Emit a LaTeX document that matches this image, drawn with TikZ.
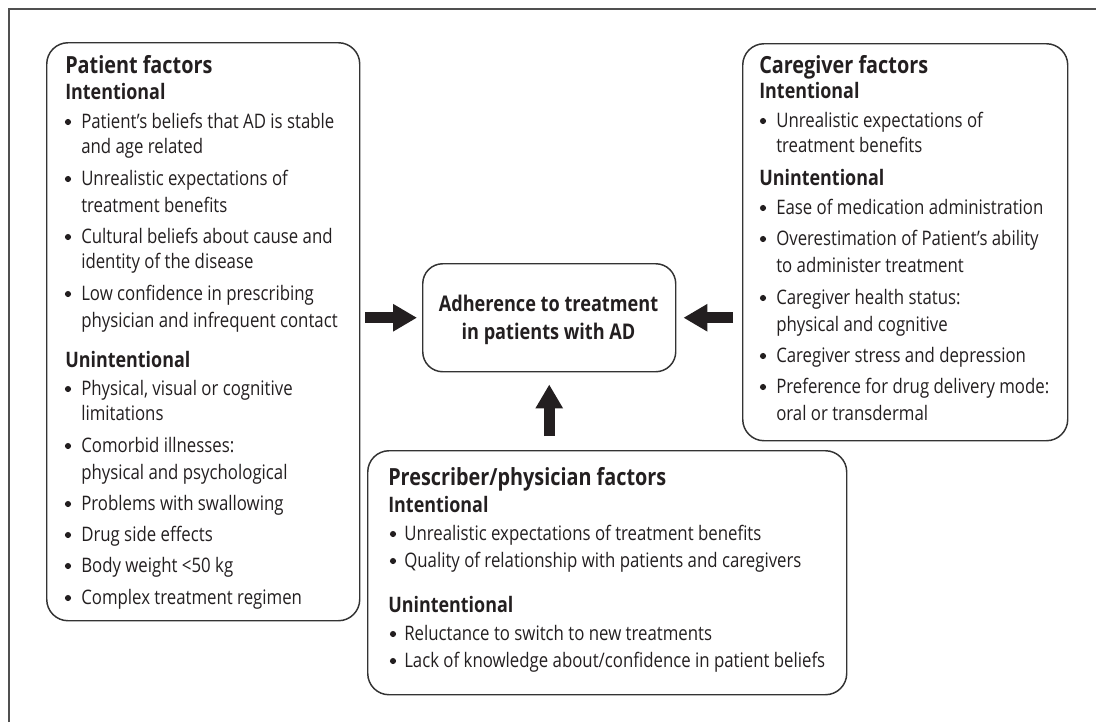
\documentclass[tikz,border=0pt]{standalone}
\usepackage{fontspec}
\setmainfont[FakeStretch=0.84]{Open Sans}
\usetikzlibrary{arrows.meta}
\definecolor{txt}{HTML}{231F20}
\definecolor{ln}{HTML}{333333}
\definecolor{frm}{HTML}{505050}
\tikzset{
  box/.style={draw=ln, line width=1.1pt, rounded corners=16pt, anchor=north west, inner sep=0pt},
  ttl/.style={anchor=base west, inner sep=0pt, text=txt, font=\fontsize{17.7}{20}\selectfont\bfseries},
  subh/.style={anchor=base west, inner sep=0pt, text=txt, font=\fontsize{16}{18}\selectfont\bfseries},
  itm/.style={anchor=base west, inner sep=0pt, text=txt, font=\fontsize{15}{17}\selectfont},
  ctxt/.style={anchor=base, inner sep=0pt, text=txt, font=\fontsize{16.2}{18}\selectfont\bfseries},
  bdot/.style={circle, fill=txt, inner sep=0pt, minimum size=4.6pt},
  bigarrow/.style={draw=txt, line width=8.25pt, -{Triangle[width=19.5pt,length=18pt]}},
}
\newcommand\bitem[5]{\node[bdot] (#1d) at (#2,#4-6) {}; \node[itm] (#1) at (#3,#4) {#5};}
\newcommand\citem[4]{\node[itm] (#1) at (#2,#3) {#4};}
\begin{document}
\begin{tikzpicture}[x=0.75pt,y=-0.75pt]
\useasboundingbox (0,0) rectangle (1096,722);
% frame
\draw[draw=frm, line width=1.1pt] (9,722) -- (9,9) -- (1096,9);
% boxes
\node[box, minimum width=234.75pt, minimum height=433.5pt] (pat) at (46,42) {};
\node[box, minimum width=243.75pt, minimum height=297.75pt] (cg) at (742,43) {};
\node[box, rounded corners=15pt, minimum width=189.75pt, minimum height=81pt] (ctr) at (422,263) {};
\node[box, minimum width=359.25pt, minimum height=183pt] (pr) at (367,450) {};
% center text
\node[ctxt] (c1) at (548.5,311) {Adherence to treatment};
\node[ctxt] (c2) at (548.5,339) {in patients with AD};
% patient
\node[ttl] (pt) at (65,73) {Patient factors};
\node[subh] (pi) at (65,99) {Intentional};
\bitem{p1}{68}{81}{128}{Patient’s beliefs that AD is stable}
\citem{p1b}{81}{153}{and age related}
\bitem{p2}{68}{81}{185}{Unrealistic expectations of}
\citem{p2b}{81}{212}{treatment benefits}
\bitem{p3}{68}{81}{243}{Cultural beliefs about cause and}
\citem{p3b}{81}{268}{identity of the disease}
\bitem{p4}{68}{81}{300}{Low confidence in prescribing}
\citem{p4b}{81}{327}{physician and infrequent contact}
\node[subh] (pu) at (65,367) {Unintentional};
\bitem{p5}{68}{81}{395}{Physical, visual or cognitive}
\citem{p5b}{81}{420}{limitations}
\bitem{p6}{68}{81}{452}{Comorbid illnesses:}
\citem{p6b}{81}{479}{physical and psychological}
\bitem{p7}{68}{81}{510}{Problems with swallowing}
\bitem{p8}{68}{81}{541}{Drug side effects}
\bitem{p9}{68}{81}{572}{Body weight <50 kg}
\bitem{p10}{68}{81}{604}{Complex treatment regimen}
% caregiver
\node[ttl] (gt) at (759,73) {Caregiver factors};
\node[subh] (gi) at (759,98) {Intentional};
\bitem{g1}{763}{776}{127}{Unrealistic expectations of}
\citem{g1b}{776}{152}{treatment benefits}
\node[subh] (gu) at (759,185) {Unintentional};
\bitem{g2}{763}{776}{214}{Ease of medication administration}
\bitem{g3}{763}{776}{245}{Overestimation of Patient’s ability}
\citem{g3b}{776}{272}{to administer treatment}
\bitem{g4}{763}{776}{304}{Caregiver health status:}
\citem{g4b}{776}{331}{physical and cognitive}
\bitem{g5}{763}{776}{362}{Caregiver stress and depression}
\bitem{g6}{763}{776}{393}{Preference for drug delivery mode:}
\citem{g6b}{776}{420}{oral or transdermal}
% prescriber
\node[ttl] (rt) at (388,485) {Prescriber/physician factors};
\node[subh] (ri) at (388,512) {Intentional};
\bitem{r1}{393}{404}{540}{Unrealistic expectations of treatment benefits}
\bitem{r2}{393}{404}{567}{Quality of relationship with patients and caregivers}
\node[subh] (ru) at (388,612) {Unintentional};
\bitem{r3}{393}{404}{640}{Reluctance to switch to new treatments}
\bitem{r4}{393}{404}{667}{Lack of knowledge about/confidence in patient beliefs}
% arrows
\draw[bigarrow, shorten <=3.75pt, shorten >=3.75pt] (pat.east |- ctr.west) -- (ctr.west);
\draw[bigarrow, shorten <=6.75pt, shorten >=5.25pt] (cg.west |- ctr.east) -- (ctr.east);
\draw[bigarrow, shorten <=10.5pt, shorten >=9pt] (ctr.south |- pr.north) -- (ctr.south);
\end{tikzpicture}
\end{document}
